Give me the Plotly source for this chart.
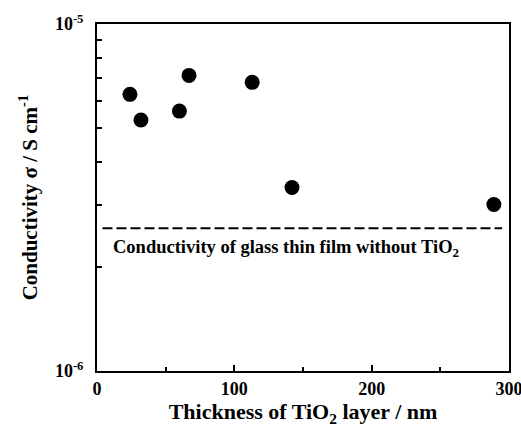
import plotly.graph_objects as go

# Measured conductivity vs TiO2 layer thickness
thickness_nm = [24, 32, 60, 67, 113, 142, 289]
conductivity = [6.27e-6, 5.29e-6, 5.61e-6, 7.11e-6, 6.79e-6, 3.38e-6, 3.02e-6]

# Reference level: glass thin film without TiO2
ref_x = [4, 295]
ref_sigma = [2.58e-6, 2.58e-6]

y_major_vals = [1e-6, 1e-5]
y_major_text = ["10<sup>-6</sup>", "10<sup>-5</sup>"]
y_minor_vals = [k * 1e-6 for k in range(2, 10)]

FONT = "Liberation Serif"

fig = go.Figure()
fig.add_trace(go.Scatter(
    x=ref_x, y=ref_sigma, mode="lines",
    line=dict(color="black", width=2, dash="10px,4px"),
    showlegend=False, hoverinfo="skip",
))
fig.add_trace(go.Scatter(
    x=thickness_nm, y=conductivity, mode="markers",
    marker=dict(color="black", size=15, symbol="circle"),
    showlegend=False,
))

fig.add_annotation(
    x=10.5, y=-5.646, xref="x", yref="y",
    text="<b>Conductivity of glass thin film without TiO<sub>2</sub></b>",
    showarrow=False, xanchor="left", yanchor="middle",
    font=dict(family=FONT, size=18.5, color="black"),
)

fig.update_layout(
    width=521, height=427,
    margin=dict(l=97, r=12, t=24, b=56),
    paper_bgcolor="white", plot_bgcolor="white",
    font=dict(family=FONT, color="black"),
)

fig.update_xaxes(
    range=[0, 300], dtick=100, tick0=0, automargin=False,
    ticklabeloverflow="allow",
    ticks="inside", ticklen=6, tickwidth=2, tickcolor="black",
    minor=dict(dtick=50, tick0=0, ticks="inside", ticklen=4, tickwidth=2, tickcolor="black"),
    showline=True, linewidth=2, linecolor="black", mirror=True,
    showgrid=False, zeroline=False,
    tickfont=dict(family=FONT, size=18, weight="bold"),
    title=dict(text="<b>Thickness of TiO<sub>2</sub> layer / nm</b>",
               font=dict(family=FONT, size=22), standoff=13),
)
fig.update_yaxes(
    type="log", range=[-6, -5], automargin=False,
    tickmode="array", tickvals=y_major_vals, ticktext=y_major_text,
    ticks="inside", ticklen=5, tickwidth=2, tickcolor="black",
    minor=dict(tickmode="array", tickvals=y_minor_vals, ticks="inside",
               ticklen=5, tickwidth=2, tickcolor="black", showgrid=False),
    ticklabelstandoff=8,
    showline=True, linewidth=2, linecolor="black", mirror=True,
    showgrid=False, zeroline=False,
    tickfont=dict(family=FONT, size=18, weight="bold"),
    title=dict(text="<b>Conductivity σ / S cm<sup>-1</sup></b>",
               font=dict(family=FONT, size=21), standoff=12),
)

fig.write_html("out.html")
